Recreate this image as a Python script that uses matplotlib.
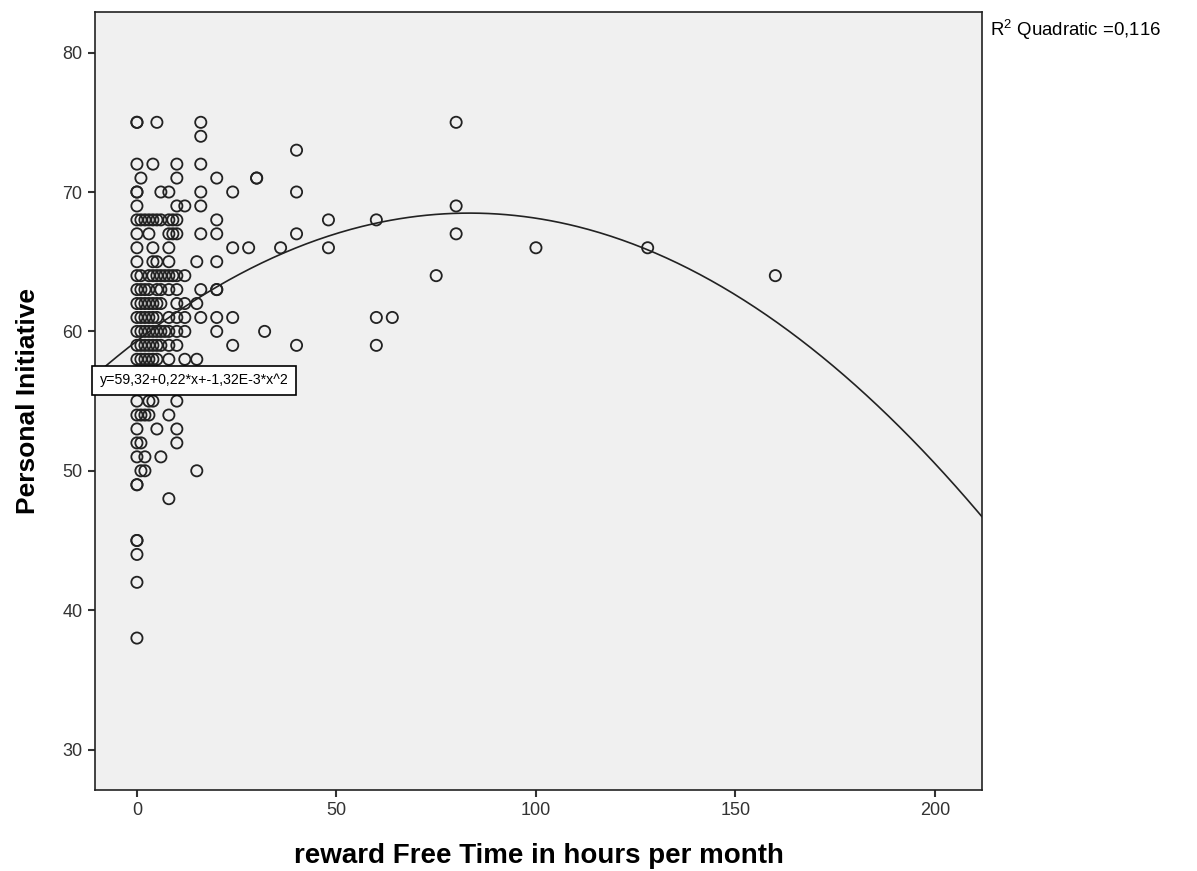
import numpy as np
import matplotlib
matplotlib.use("Agg")
import matplotlib.pyplot as plt

plt.rcParams['font.family'] = ['Liberation Sans', 'DejaVu Sans']
plt.rcParams['mathtext.default'] = 'regular'

# points, grouped by Personal Initiative value
rows = {
    75: [0, 0, 5, 16, 80],
    74: [16],
    73: [40],
    72: [0, 4, 10, 16],
    71: [1, 10, 20, 30, 30],
    70: [0, 0, 6, 8, 16, 24, 40],
    69: [0, 10, 12, 16, 80],
    68: [0, 1, 2, 3, 4, 5, 6, 8, 9, 10, 20, 48, 60],
    67: [0, 3, 8, 9, 10, 16, 20, 40, 80],
    66: [0, 4, 8, 24, 28, 36, 48, 100, 128],
    65: [0, 4, 5, 8, 15, 20],
    64: [0, 1, 3, 4, 5, 6, 7, 8, 9, 10, 12, 75, 160],
    63: [0, 1, 2, 3, 5, 6, 8, 10, 16, 20, 20],
    62: [0, 1, 2, 3, 4, 5, 6, 10, 12, 15],
    61: [0, 1, 2, 3, 4, 5, 8, 10, 12, 16, 20, 24, 60, 64],
    60: [0, 1, 2, 3, 4, 5, 6, 7, 8, 10, 12, 20, 32],
    59: [0, 1, 2, 3, 4, 5, 6, 8, 10, 24, 40, 60],
    58: [0, 1, 2, 3, 4, 5, 8, 12, 15],
    57: [0, 2, 4],
    56: [0, 1, 3],
    55: [0, 3, 4, 10],
    54: [0, 1, 2, 3, 8],
    53: [0, 5, 10],
    52: [0, 1, 10],
    51: [0, 2, 6],
    50: [1, 2, 15],
    49: [0, 0],
    48: [8],
    45: [0, 0],
    44: [0],
    42: [0],
    38: [0],
}

free_time = []
initiative = []
for yv, xs in rows.items():
    for xv in xs:
        free_time.append(xv)
        initiative.append(yv)

# quadratic fit shown on the chart: y = 59.32 + 0.22x - 1.32E-3 x^2
coef = [-1.32e-3, 0.22, 59.32]
r2_text = "R$^2$ Quadratic =0,116"
fit_text = "y=59,32+0,22*x+-1,32E-3*x^2"

fig = plt.figure(figsize=(11.97, 8.71), dpi=100)
ax = fig.add_axes([0.0794, 0.093, 0.741, 0.893])
ax.set_facecolor('#f0f0f0')

ax.scatter(free_time, initiative, s=65, facecolors='none', edgecolors='#222222',
           linewidths=1.3, zorder=3)

xs = np.linspace(-10.5, 211.8, 400)
ax.plot(xs, np.polyval(coef, xs), color='#222222', lw=1.2, zorder=4)

ax.set_xlim(-10.5, 211.8)
ax.set_ylim(27.1, 82.9)
ax.set_xticks([0, 50, 100, 150, 200])
ax.set_yticks([30, 40, 50, 60, 70, 80])
ax.tick_params(direction='out', length=5, width=1.5, labelsize=13, colors='#333333', pad=4)
for s in ax.spines.values():
    s.set_linewidth(1.2)
    s.set_color('#222222')

ax.set_xlabel("reward Free Time in hours per month", fontsize=20, fontweight='bold', labelpad=17)
ax.set_ylabel("Personal Initiative", fontsize=19, fontweight='bold', labelpad=16)

ax.text(0.005, 0.5267, fit_text, transform=ax.transAxes, fontsize=10.2,
        va='center', ha='left', zorder=6,
        bbox=dict(boxstyle='square,pad=0.55', fc='white', ec='black', lw=1.2))

fig.text(0.827, 0.9656, r2_text, fontsize=13.4, ha='left', va='center')

fig.savefig("out.png", dpi=100)
